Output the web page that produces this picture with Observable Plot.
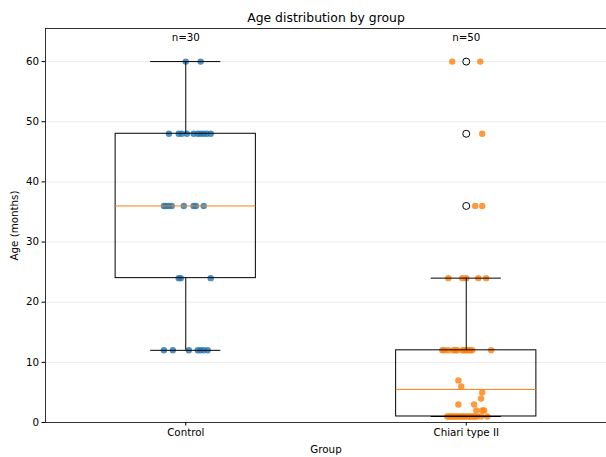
<!DOCTYPE html>
<html>
<head>
<meta charset="utf-8">
<script src="https://cdn.jsdelivr.net/npm/d3@7"></script>
<script src="https://cdn.jsdelivr.net/npm/@observablehq/plot@0.6"></script>
<style>
  html, body { margin: 0; padding: 0; background: white; }
</style>
</head>
<body>
<div id="chart"></div>
<script>
// ---- Data ----
const groups = ["Control", "Chiari type II"];
const groupColors = ["#1f77b4", "#ff7f0e"];
const yTicks = [0, 10, 20, 30, 40, 50, 60];
const titleText = "Age distribution by group";
const xLabel = "Group";
const yLabel = "Age (months)";

// Control group ages (months) and horizontal jitter (in group units)
const controlAges = [
  60, 60,
  48, 48, 48, 48, 48, 48, 48, 48, 48, 48,
  36, 36, 36, 36, 36, 36, 36, 36,
  24, 24, 24,
  12, 12, 12, 12, 12, 12, 12
];
const controlJitter = [
  0.0, 0.053,
  -0.060, -0.025, -0.014, 0.004, 0.028, 0.043, 0.053, 0.064, 0.075, 0.089,
  -0.078, -0.071, -0.060, -0.050, -0.007, 0.028, 0.036, 0.064,
  -0.025, -0.018, 0.089,
  -0.078, -0.046, 0.011, 0.043, 0.053, 0.064, 0.078
];

// Chiari type II ages (months) and jitter
const chiariAges = [
  60, 60,
  48,
  36, 36,
  24, 24, 24, 24, 24,
  12, 12, 12, 12, 12, 12, 12, 12, 12, 12, 12, 12, 12,
  7, 6, 5, 4,
  3, 3,
  2, 2, 2,
  1, 1, 1, 1, 1, 1, 1, 1, 1, 1, 1, 1, 1, 1, 1, 1, 1, 1
];
const chiariJitter = [
  -0.050, 0.050,
  0.057,
  0.032, 0.057,
  -0.064, -0.014, 0.0, 0.043, 0.071,
  -0.085, -0.078, -0.064, -0.046, -0.039, -0.032, -0.014, -0.007, 0.0, 0.007, 0.014, 0.021, 0.089,
  -0.028, -0.018, 0.057, 0.053,
  -0.028, 0.028,
  0.036, 0.057, 0.064,
  -0.068, -0.060, -0.053, -0.046, -0.039, -0.032, -0.025, -0.018, -0.011, -0.004,
  0.004, 0.011, 0.018, 0.025, 0.032, 0.039, 0.053, 0.075
];

// ---- Build tables ----
const agesByGroup = [controlAges, chiariAges];
const jitterByGroup = [controlJitter, chiariJitter];

const points = [];
agesByGroup.forEach((ages, g) => {
  ages.forEach((a, i) => points.push({g, age: a, x: g + jitterByGroup[g][i]}));
});

// Box statistics (matplotlib-style: linear quantiles, 1.5 IQR whiskers)
const stats = agesByGroup.map((ages, g) => {
  const s = ages.slice().sort((a, b) => a - b);
  const q1 = d3.quantileSorted(s, 0.25);
  const med = d3.quantileSorted(s, 0.5);
  const q3 = d3.quantileSorted(s, 0.75);
  const iqr = q3 - q1;
  const lo = d3.min(s.filter(v => v >= q1 - 1.5 * iqr));
  const hi = d3.max(s.filter(v => v <= q3 + 1.5 * iqr));
  const outliers = s.filter(v => v < lo || v > hi);
  return {g, q1, med, q3, lo, hi, outliers, n: ages.length};
});
const outlierPts = stats.flatMap(s => Array.from(new Set(s.outliers)).map(v => ({g: s.g, age: v})));

const boxHalf = 0.25, capHalf = 0.125;

const chart = Plot.plot({
  width: 606,
  height: 457,
  marginLeft: 45,
  marginRight: 0,
  marginTop: 28,
  marginBottom: 35,
  style: {fontFamily: "DejaVu Sans", fontSize: "10.3px", color: "black", background: "white"},
  x: {type: "linear", domain: [-0.5, 1.5]},
  y: {domain: [0, 65.5]},
  marks: [
    Plot.gridY(yTicks.filter(t => t > 0), {stroke: "#e6e6e6", strokeOpacity: 1, strokeWidth: 0.8}),
    Plot.dot(points, {x: "x", y: "age", r: 3.2, fill: d => groupColors[d.g], fillOpacity: 0.8, stroke: "none"}),
    // boxes
    Plot.rect(stats, {x1: d => d.g - boxHalf, x2: d => d.g + boxHalf, y1: "q1", y2: "q3", fill: "none", stroke: "black", strokeWidth: 1}),
    // whiskers
    Plot.ruleX(stats, {x: "g", y1: "q3", y2: "hi", stroke: "black", strokeWidth: 1}),
    Plot.ruleX(stats, {x: "g", y1: "lo", y2: "q1", stroke: "black", strokeWidth: 1}),
    Plot.ruleY(stats, {y: "hi", x1: d => d.g - capHalf, x2: d => d.g + capHalf, stroke: "black", strokeWidth: 1}),
    Plot.ruleY(stats, {y: "lo", x1: d => d.g - capHalf, x2: d => d.g + capHalf, stroke: "black", strokeWidth: 1}),
    // medians
    Plot.ruleY(stats, {y: "med", x1: d => d.g - boxHalf, x2: d => d.g + boxHalf, stroke: "#ff7f0e", strokeWidth: 1}),
    // fliers
    Plot.dot(outlierPts, {x: "g", y: "age", r: 3.5, fill: "none", stroke: "black", strokeWidth: 1}),
    // frame
    Plot.frame({stroke: "black", strokeWidth: 0.8}),
    Plot.axisX({ticks: [0, 1], tickFormat: i => groups[i], tickSize: 3.5, tickPadding: 3, label: xLabel, labelAnchor: "center", labelArrow: "none", labelOffset: 30}),
    Plot.axisY({ticks: yTicks, tickSize: 3.5, tickPadding: 3, label: yLabel, labelAnchor: "center", labelArrow: "none", labelOffset: 35}),
    // n labels
    Plot.text(stats, {x: "g", text: d => `n=${d.n}`, frameAnchor: "top", lineAnchor: "middle", dy: 9, fontSize: 10.3}),
    // title
    Plot.text([titleText], {frameAnchor: "top", lineAnchor: "middle", dy: -10, fontSize: 12.4})
  ]
});
document.getElementById("chart").appendChild(chart);
</script>
</body>
</html>
